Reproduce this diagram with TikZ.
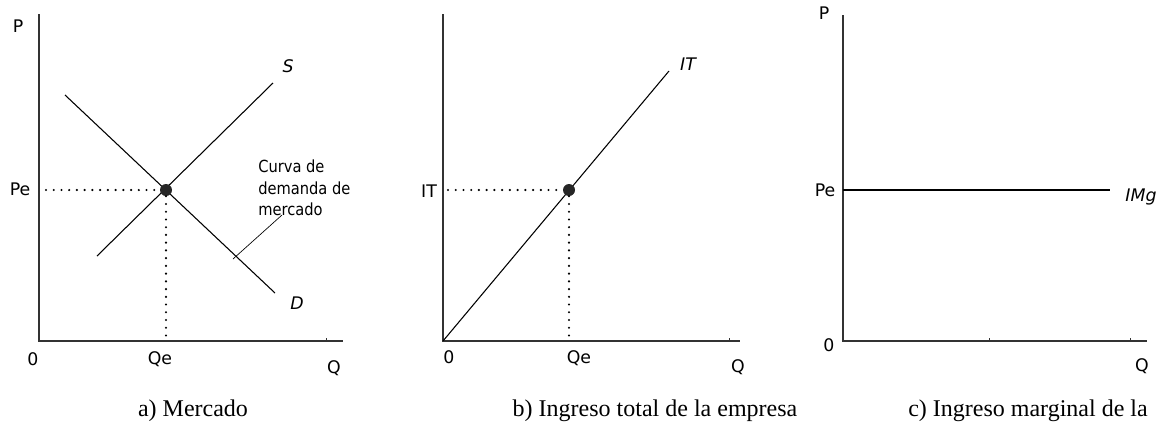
\documentclass[tikz,border=0pt]{standalone}
\usepackage{fontspec}
\setmainfont{Liberation Serif}
\newfontfamily\lblfont{DejaVu Sans}
\newfontfamily\notefont[FakeStretch=0.88]{DejaVu Sans}

\begin{document}
\begin{tikzpicture}[
  x=0.75pt, y=-0.75pt,
  axis/.style={line width=1.1pt, draw=black!80},
  curve/.style={line width=0.8pt},
  leader/.style={line width=0.5pt},
  guide/.style={line width=1.8pt, line cap=round, dash pattern=on 0pt off 5.8pt},
  eqdot/.style={circle, fill=black!85, inner sep=0pt, minimum size=9pt},
  lbl/.style={font=\lblfont\fontsize{13}{15}\selectfont, inner sep=0pt},
  notelbl/.style={font=\notefont\fontsize{12.5}{15.8}\selectfont, inner sep=0pt},
  curvelbl/.style={font=\lblfont\itshape\fontsize{13}{15}\selectfont, inner sep=0pt},
  caption/.style={font=\fontsize{18}{21}\selectfont, anchor=base, inner sep=0pt},
]

\useasboundingbox (0,0) rectangle (1164,422);

% =============================================
% a) Mercado
% =============================================
\coordinate (a-top) at (39,14);
\coordinate (a-o) at (39,341);
\coordinate (a-end) at (343,341);
\draw[axis] (a-top) -- (a-o) -- (a-end);
\draw[axis, line width=0.6pt] (326,341) -- ++(0,-3);

% Supply and demand
\coordinate (s-lo) at (97,256);
\coordinate (s-hi) at (273,83);
\coordinate (d-hi) at (65,95);
\coordinate (d-lo) at (275,293);
\draw[curve] (s-lo) -- (s-hi);
\draw[curve] (d-hi) -- (d-lo);

\node[eqdot] (a-eq) at (166,190) {};
\coordinate (a-pe) at (46,190);
\coordinate (a-qe) at (166,341);
\draw[guide] (a-pe) -- (a-eq.west);
\draw[guide] (a-eq.south) -- (a-qe);

% Labels
\node[lbl] (a-p) at (18,26) {P};
\node[lbl] (a-pelbl) at (20,189) {Pe};
\node[lbl] (a-zero) at (33,359) {0};
\node[lbl] (a-qelbl) at (160,359) {Qe};
\node[lbl] (a-q) at (334,368) {Q};
\node[curvelbl] (s-lbl) at (288,66) {S};
\node[curvelbl] (d-lbl) at (297,303) {D};

\node[notelbl, anchor=north west, align=left] (a-note) at (258,160)
  {Curva de\\demanda de\\mercado};
\coordinate (a-lead) at (282,215);
\coordinate (a-tip) at (233,259);
\draw[leader] (a-lead) -- (a-tip);

\node[caption] (a-cap) at (193,416) {a) Mercado};

% =============================================
% b) Ingreso total de la empresa
% =============================================
\coordinate (b-top) at (443,14);
\coordinate (b-o) at (443,341);
\coordinate (b-end) at (740,341);
\draw[axis] (b-top) -- (b-o) -- (b-end);
\draw[axis, line width=0.6pt] (729,341) -- ++(0,-3);

\coordinate (it-hi) at (669,71);
\draw[curve] (b-o) -- (it-hi);

\node[eqdot] (b-eq) at (569,190) {};
\coordinate (b-it) at (448,190);
\coordinate (b-qe) at (569,341);
\draw[guide] (b-it) -- (b-eq.west);
\draw[guide] (b-eq.south) -- (b-qe);

\node[lbl] (b-itlbl) at (429,191) {IT};
\node[curvelbl] (it-lbl) at (688,64) {IT};
\node[lbl] (b-zero) at (449,357) {0};
\node[lbl] (b-qelbl) at (579,358) {Qe};
\node[lbl] (b-q) at (738,367) {Q};

\node[caption] (b-cap) at (655,416) {b) Ingreso total de la empresa};

% =============================================
% c) Ingreso marginal de la
% =============================================
\coordinate (c-top) at (843,15);
\coordinate (c-o) at (843,341);
\coordinate (c-end) at (1147,341);
\draw[axis] (c-top) -- (c-o) -- (c-end);
\draw[axis, line width=0.6pt] (989,341) -- ++(0,-3);
\draw[axis, line width=0.6pt] (1130,341) -- ++(0,-3);

\coordinate (img-lo) at (843,190);
\coordinate (img-hi) at (1110,190);
\draw[curve] (img-lo) -- (img-hi);

\node[lbl] (c-p) at (824,13) {P};
\node[lbl] (c-pelbl) at (825,190) {Pe};
\node[curvelbl] (img-lbl) at (1141,197) {IMg};
\node[lbl] (c-zero) at (829,345) {0};
\node[lbl] (c-q) at (1142,366) {Q};

\node[caption] (c-cap) at (1028,416) {c) Ingreso marginal de la};

\end{tikzpicture}
\end{document}
